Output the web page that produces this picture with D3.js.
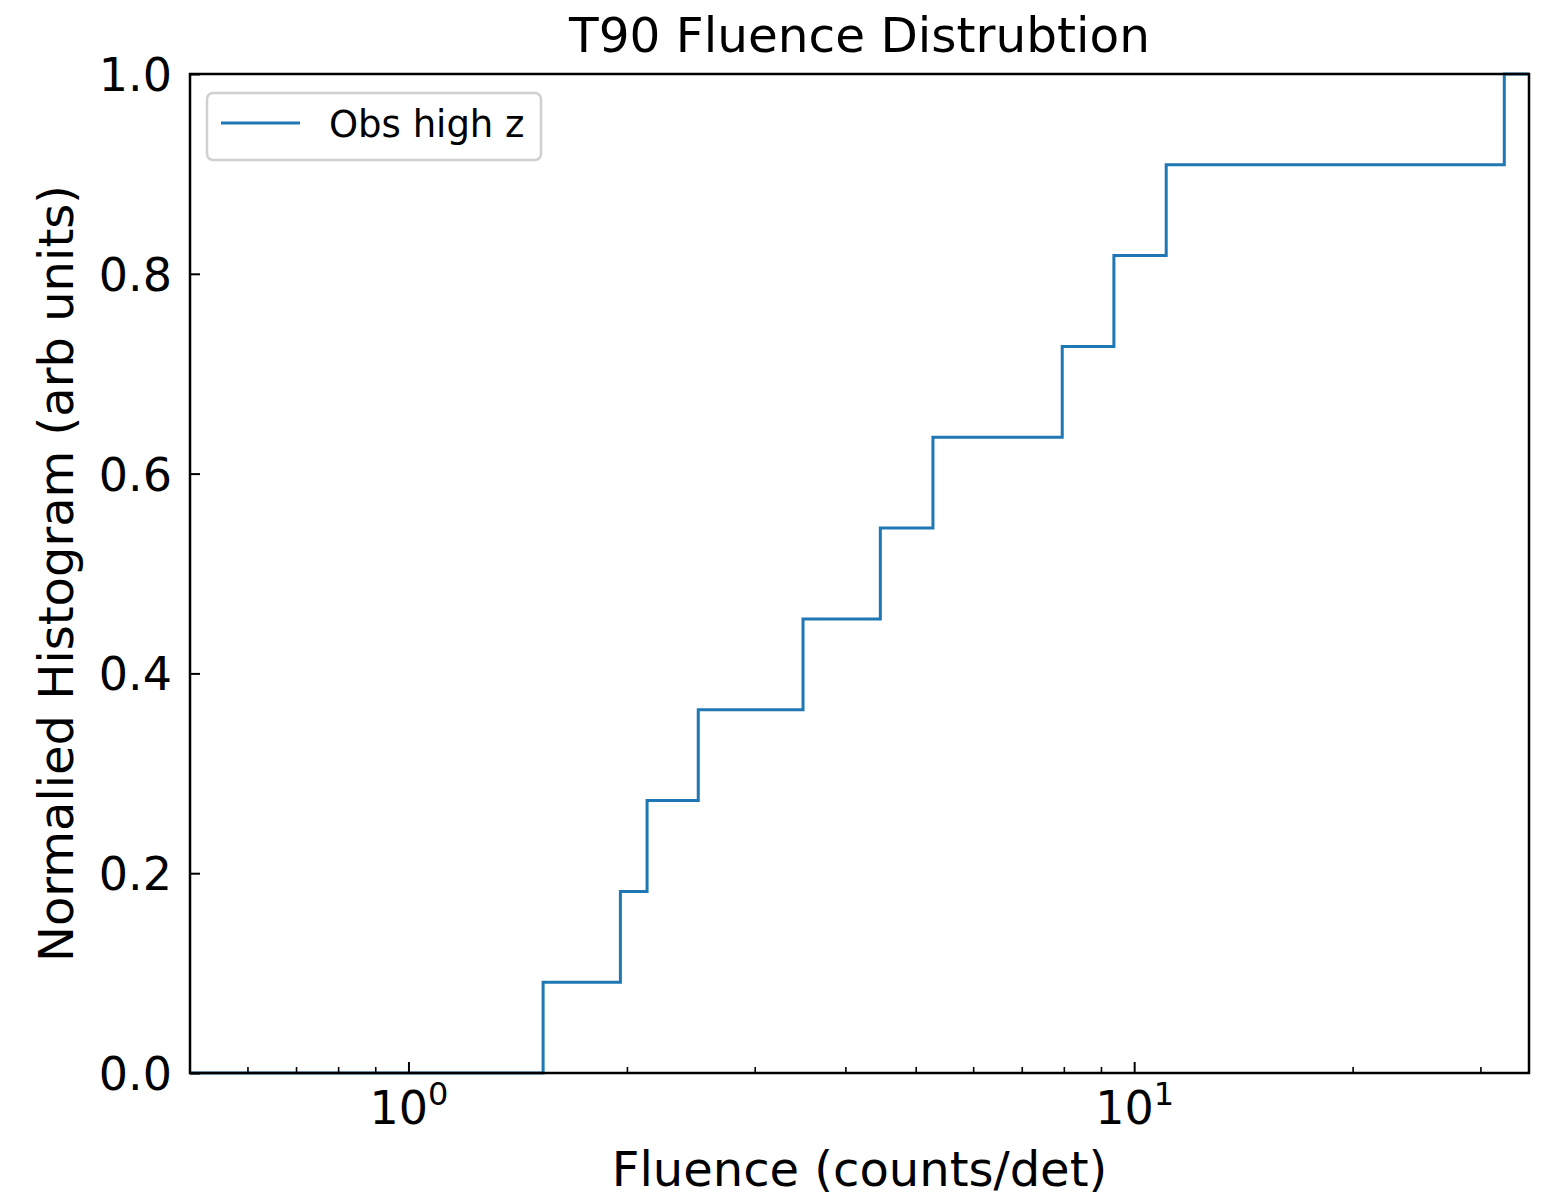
<!DOCTYPE html>
<html>
<head>
<meta charset="utf-8">
<script src="https://cdn.jsdelivr.net/npm/d3@7"></script>
<style>
  body { margin: 0; background: #fff; }
  svg text { font-family: "DejaVu Sans", sans-serif; fill: #000; }
</style>
</head>
<body>
<svg id="chart" width="1548" height="1198"></svg>
<script>
// data
const fluence = [0.5, 1.533, 1.959, 2.132, 2.508, 3.497, 4.469, 5.281, 7.959, 9.377, 11.07, 32.36, 35]
const cumFraction = [0, 0.0909, 0.1818, 0.2727, 0.3636, 0.4545, 0.5455, 0.6364, 0.7273, 0.8182, 0.9091, 1.0, 1.0]
const yTicks = [0, 0.2, 0.4, 0.6, 0.8, 1.0]
const xMajor = [1, 10]
const xMinor = [0.6, 0.7, 0.8, 0.9, 2, 3, 4, 5, 6, 7, 8, 9, 20, 30]
const seriesName = 'Obs high z'

const margin = { left: 190, right: 1529, top: 74, bottom: 1073 }
const lineColor = '#1f77b4'

const svg = d3.select('#chart')

const x = d3.scaleLog().domain([0.5, 35]).range([margin.left, margin.right])
const y = d3.scaleLinear().domain([0, 1]).range([margin.bottom, margin.top])

svg.append('clipPath').attr('id', 'clip')
  .append('rect')
  .attr('x', margin.left).attr('y', margin.top - 2)
  .attr('width', margin.right - margin.left).attr('height', margin.bottom - margin.top + 4)

// step line
const points = fluence.map((f, i) => [f, cumFraction[i]])
const line = d3.line()
  .x(d => x(d[0]))
  .y(d => y(d[1]))
  .curve(d3.curveStepAfter)

svg.append('path')
  .datum(points)
  .attr('clip-path', 'url(#clip)')
  .attr('fill', 'none')
  .attr('stroke', lineColor)
  .attr('stroke-width', 3)
  .attr('d', line)

// y axis, ticks pointing in
const yAxis = svg.append('g')
  .attr('transform', `translate(${margin.left},0)`)
  .call(d3.axisLeft(y).tickValues(yTicks).tickFormat(d3.format('.1f')).tickSizeInner(-10).tickSizeOuter(0).tickPadding(18))
yAxis.select('.domain').remove()
yAxis.selectAll('line').attr('stroke', '#000').attr('stroke-width', 2)
yAxis.selectAll('text').style('font-size', '46px').attr('dy', '0.36em')

// x axis minor ticks
const xMinorAxis = svg.append('g')
  .attr('transform', `translate(0,${margin.bottom})`)
  .call(d3.axisBottom(x).tickValues(xMinor).tickFormat('').tickSizeInner(-6).tickSizeOuter(0))
xMinorAxis.select('.domain').remove()
xMinorAxis.selectAll('line').attr('stroke', '#000').attr('stroke-width', 1.6)

// x axis major ticks with 10^n labels
const xMajorAxis = svg.append('g')
  .attr('transform', `translate(0,${margin.bottom})`)
  .call(d3.axisBottom(x).tickValues(xMajor).tickFormat('').tickSizeInner(-11).tickSizeOuter(0))
xMajorAxis.select('.domain').remove()
xMajorAxis.selectAll('line').attr('stroke', '#000').attr('stroke-width', 2)
xMajorAxis.selectAll('.tick text').each(function (d) {
  const t = d3.select(this).attr('y', null).attr('dy', null)
    .attr('transform', 'translate(0,51)')
    .attr('text-anchor', 'middle')
  t.append('tspan').style('font-size', '46px').text('10')
  t.append('tspan').style('font-size', '32px').attr('dy', -19).text(Math.round(Math.log10(d)))
})

// frame
svg.append('rect')
  .attr('x', margin.left).attr('y', margin.top)
  .attr('width', margin.right - margin.left).attr('height', margin.bottom - margin.top)
  .attr('fill', 'none').attr('stroke', '#000').attr('stroke-width', 2.5)

// titles
svg.append('text')
  .attr('x', (margin.left + margin.right) / 2).attr('y', 52)
  .attr('text-anchor', 'middle').style('font-size', '48.5px')
  .text('T90 Fluence Distrubtion')

svg.append('text')
  .attr('x', (margin.left + margin.right) / 2).attr('y', 1186)
  .attr('text-anchor', 'middle').style('font-size', '48px')
  .text('Fluence (counts/det)')

svg.append('text')
  .attr('transform', `translate(73,${(margin.top + margin.bottom) / 2}) rotate(-90)`)
  .attr('text-anchor', 'middle').style('font-size', '48px')
  .text('Normalied Histogram (arb units)')

// legend
const legend = svg.append('g')
legend.append('rect')
  .attr('x', 207).attr('y', 93).attr('width', 334).attr('height', 67).attr('rx', 6)
  .attr('fill', '#fff').attr('fill-opacity', 0.8)
  .attr('stroke', '#d0d0d0').attr('stroke-width', 2.5)
legend.append('line')
  .attr('x1', 221).attr('x2', 300).attr('y1', 123).attr('y2', 123)
  .attr('stroke', lineColor).attr('stroke-width', 3)
legend.append('text')
  .attr('x', 329).attr('y', 137)
  .style('font-size', '37px')
  .text(seriesName)
</script>
</body>
</html>
